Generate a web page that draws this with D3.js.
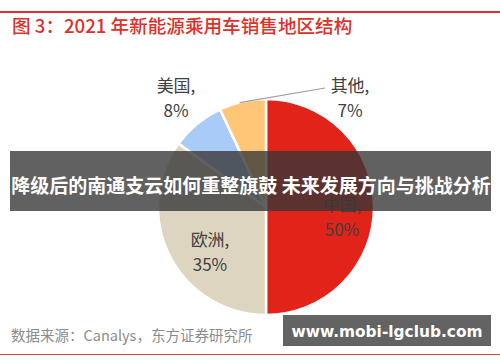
<!DOCTYPE html>
<html><head><meta charset="utf-8">
<script src="https://cdn.jsdelivr.net/npm/d3@7"></script>
<style>body{margin:0;background:#fff}svg{display:block}</style>
</head><body>
<script>
const regions = ["中国", "欧洲", "美国", "其他"];
const shares = [50, 35, 8, 7];
const colors = ["#E2231A", "#DDD5C0", "#A8CBF8", "#FFC677"];
const title = "图 3：2021 年新能源乘用车销售地区结构";
const source = "数据来源：Canalys，东方证券研究所";
const banner = "降级后的南通支云如何重整旗鼓 未来发展方向与挑战分析";
const watermark = "www.mobi-lgclub.com";
// label anchor positions (layout)
const labelPos = [[342, 205], [210, 240], [176, 86], [350, 86]];

const W = 500, H = 362, cx = 266, cy = 207, R = 108;
const font = "'Noto Sans CJK SC','Noto Sans',sans-serif";
const svg = d3.select("body").append("svg").attr("width", W).attr("height", H);

svg.append("rect").attr("x", 0).attr("y", 11).attr("width", W).attr("height", 2).attr("fill", "#E0302A");
svg.append("text").attr("x", 12).attr("y", 33).attr("font-family", font).attr("font-size", 18.6)
  .attr("font-weight", 500).attr("fill", "#E0302A").text(title);

const pie = d3.pie().sort(null).value(d => d)(shares);
const arc = d3.arc().innerRadius(0).outerRadius(R);
const g = svg.append("g").attr("transform", `translate(${cx},${cy})`);
g.selectAll("path").data(pie).join("path").attr("d", arc)
  .attr("fill", (d, i) => colors[i]).attr("stroke", "#fff").attr("stroke-width", 2.5);

// leader line for 其他
const oth = pie[3];
const ma = (oth.startAngle + oth.endAngle) / 2;
const p0 = [cx + Math.sin(ma) * (R - 1) - 3, cy - Math.cos(ma) * (R - 1)];
svg.append("path").attr("d", `M${p0[0]},${p0[1]} L325,88`).attr("stroke", "#A0A0A0").attr("fill", "none").attr("stroke-width", 1.2);

regions.forEach((r, i) => {
  const t = svg.append("text").attr("font-family", font).attr("font-size", 17).attr("fill", "#404040")
    .attr("text-anchor", "middle");
  t.append("tspan").attr("x", labelPos[i][0]).attr("y", labelPos[i][1] + 6).text(r + ",");
  t.append("tspan").attr("x", labelPos[i][0]).attr("y", labelPos[i][1] + 31).text(shares[i] + "%");
});

svg.append("text").attr("x", 11).attr("y", 341).attr("font-family", font).attr("font-size", 14.5)
  .attr("fill", "#8C8C8C").text(source);
svg.append("rect").attr("x", 0).attr("y", 354).attr("width", W).attr("height", 1).attr("fill", "#D04A4A");

// overlay banner
svg.append("rect").attr("x", 10).attr("y", 151).attr("width", 481).attr("height", 60).attr("fill", "rgba(55,55,55,0.79)");
svg.append("text").attr("x", 251).attr("y", 193).attr("text-anchor", "middle").attr("font-family", font)
  .attr("font-size", 19).attr("font-weight", "bold").attr("fill", "#fff").text(banner);

svg.append("rect").attr("x", 283).attr("y", 315).attr("width", 208).attr("height", 31).attr("fill", "#636363");
svg.append("text").attr("x", 387).attr("y", 337).attr("text-anchor", "middle").attr("font-family", "'DejaVu Sans',sans-serif")
  .attr("font-size", 15.4).attr("font-weight", "bold").attr("fill", "#fff").text(watermark);
</script>
</body></html>
